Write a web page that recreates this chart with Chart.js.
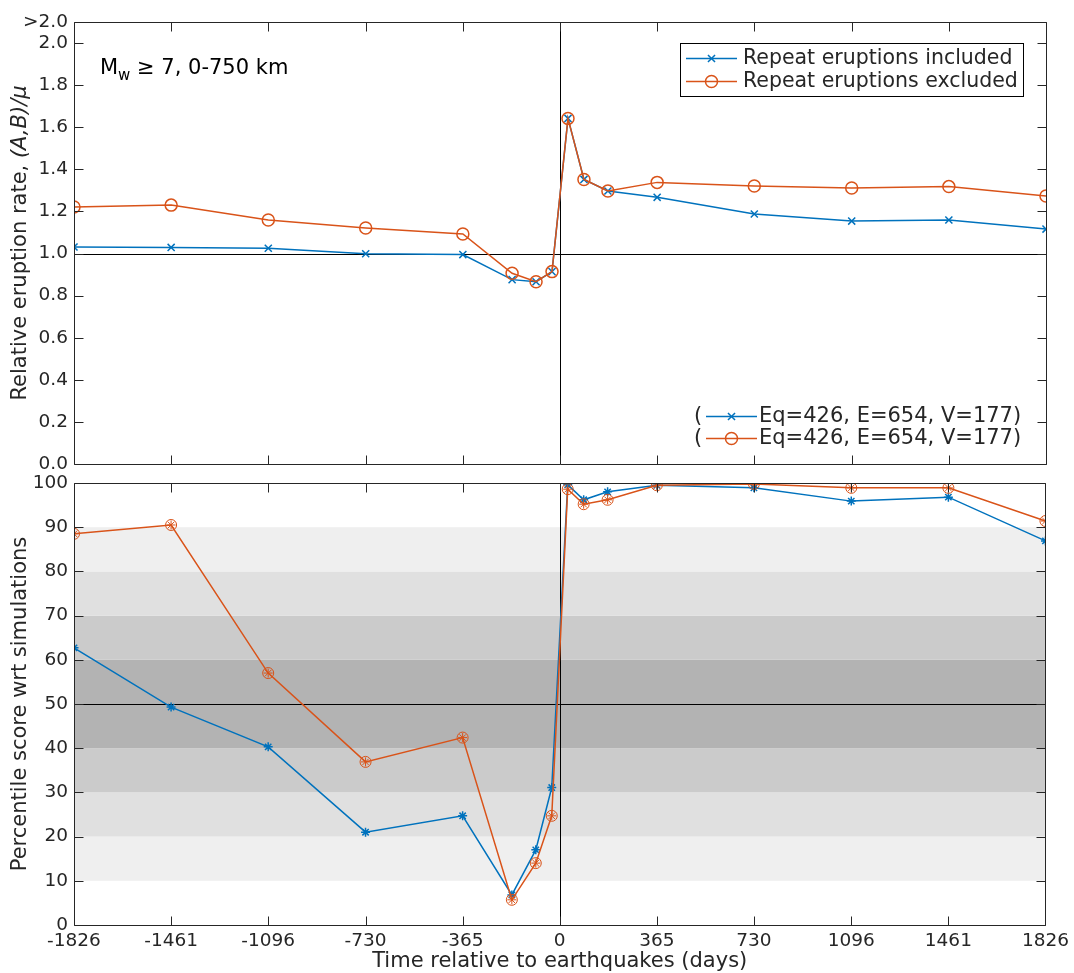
<!DOCTYPE html>
<html>
<head>
<meta charset="utf-8">
<script src="https://cdn.jsdelivr.net/npm/chart.js@4.4.1/dist/chart.umd.min.js"></script>
<style>
  body { margin: 0; background: #fff; }
  #wrap { position: relative; width: 1074px; height: 973px; }
  canvas { position: absolute; left: 0; top: 0; }
</style>
</head>
<body>
<div id="wrap">
  <canvas id="rate" width="1074" height="973"></canvas>
  <canvas id="pct" width="1074" height="973"></canvas>
</div>
<script>
// data
const days = [-1826, -1461, -1096, -730, -365, -180, -90, -30, 30, 90, 180, 365, 730, 1096, 1461, 1826];
const rateIncl = [1.031, 1.029, 1.025, 0.999, 0.995, 0.876, 0.866, 0.914, 1.642, 1.352, 1.297, 1.267, 1.188, 1.154, 1.159, 1.116];
const rateExcl = [1.221, 1.230, 1.159, 1.121, 1.093, 0.906, 0.866, 0.914, 1.642, 1.352, 1.297, 1.338, 1.321, 1.311, 1.318, 1.273];
const pctIncl = [62.7, 49.3, 40.3, 21.0, 24.7, 6.8, 17.0, 31.1, 99.6, 96.2, 98.0, 99.5, 98.9, 95.9, 96.8, 86.9];
const pctExcl = [88.5, 90.5, 57.0, 36.9, 42.4, 5.7, 14.0, 24.7, 98.6, 95.2, 96.2, 99.5, 99.8, 98.9, 98.9, 91.4];

const xTicks = [-1826, -1461, -1096, -730, -365, 0, 365, 730, 1096, 1461, 1826];
const rateTicks = [0, 0.2, 0.4, 0.6, 0.8, 1.0, 1.2, 1.4, 1.6, 1.8, 2.0, 2.1];
const pctTicks = [0, 10, 20, 30, 40, 50, 60, 70, 80, 90, 100];
const bands = [[10, 20], [20, 30], [30, 40], [40, 60], [60, 70], [70, 80], [80, 90]];
const bandShades = ['#efefef', '#e0e0e0', '#cbcbcb', '#b3b3b3', '#cbcbcb', '#e0e0e0', '#efefef'];

const legendNames = ['Repeat eruptions included', 'Repeat eruptions excluded'];
const countText = 'Eq=426, E=654, V=177)';

const BLUE = '#0072BD';
const ORANGE = '#D95319';
const AXIS = '#262626';
const FONT = '"DejaVu Sans", Verdana, sans-serif';

function pts(ys) {
  return days.map((d, i) => ({ x: d, y: ys[i] }));
}

// frame, inward ticks, reference lines, titles
const axesPlugin = {
  id: 'axesPlugin',
  beforeDatasetsDraw(chart, args, opts) {
    const ctx = chart.ctx;
    const a = chart.chartArea;
    const xs = chart.scales.x, ys = chart.scales.y;
    ctx.save();
    if (opts.bands) {
      opts.bands.forEach((b, i) => {
        const y1 = ys.getPixelForValue(b[1]);
        const y0 = ys.getPixelForValue(b[0]);
        ctx.fillStyle = bandShades[i];
        ctx.fillRect(a.left, y1, a.right - a.left, y0 - y1);
      });
    }
    ctx.strokeStyle = '#000';
    ctx.lineWidth = 1;
    const ry = Math.round(ys.getPixelForValue(opts.refY)) + 0.5;
    ctx.beginPath();
    ctx.moveTo(a.left, ry);
    ctx.lineTo(a.right, ry);
    const rx = Math.round(xs.getPixelForValue(0)) + 0.5;
    ctx.moveTo(rx, a.top);
    ctx.lineTo(rx, a.bottom);
    ctx.stroke();
    ctx.restore();
  },
  afterDraw(chart, args, opts) {
    const ctx = chart.ctx;
    const a = chart.chartArea;
    const xs = chart.scales.x, ys = chart.scales.y;
    const L = Math.round(a.left) + 0.5, R = Math.round(a.right) + 0.5;
    const T = Math.round(a.top) + 0.5, B = Math.round(a.bottom) + 0.5;
    const tl = 9;
    ctx.save();
    ctx.strokeStyle = AXIS;
    ctx.lineWidth = 1;
    ctx.beginPath();
    ctx.rect(L, T, R - L, B - T);
    xTicks.forEach(v => {
      const px = Math.round(xs.getPixelForValue(v)) + 0.5;
      ctx.moveTo(px, B); ctx.lineTo(px, B - tl);
      ctx.moveTo(px, T); ctx.lineTo(px, T + tl);
    });
    opts.yTicks.forEach(v => {
      const py = Math.round(ys.getPixelForValue(v)) + 0.5;
      ctx.moveTo(L, py); ctx.lineTo(L + tl, py);
      ctx.moveTo(R, py); ctx.lineTo(R - tl, py);
    });
    ctx.stroke();

    // y title, possibly with an italic part
    ctx.fillStyle = AXIS;
    ctx.translate(21, (a.top + a.bottom) / 2);
    ctx.rotate(-Math.PI / 2);
    ctx.textBaseline = 'middle';
    let total = 0;
    opts.yTitle.forEach(p => {
      ctx.font = (p[1] ? 'italic ' : '') + '21px ' + FONT;
      total += ctx.measureText(p[0]).width;
    });
    let x = -total / 2;
    opts.yTitle.forEach(p => {
      ctx.font = (p[1] ? 'italic ' : '') + '21px ' + FONT;
      ctx.fillText(p[0], x, 0);
      x += ctx.measureText(p[0]).width;
    });
    ctx.restore();

    if (opts.extra) opts.extra(chart);
  }
};

function sample(ctx, x0, x1, y, color, styles, radius) {
  ctx.strokeStyle = color;
  ctx.fillStyle = 'rgba(0,0,0,0)';
  ctx.lineWidth = 1.5;
  ctx.beginPath();
  ctx.moveTo(x0, y);
  ctx.lineTo(x1, y);
  ctx.stroke();
  styles.forEach(s => {
    Chart.helpers.drawPoint(ctx, { pointStyle: s, radius: radius, rotation: 0, borderWidth: 1.5 }, (x0 + x1) / 2, y);
  });
}

function drawTopExtras(chart) {
  const ctx = chart.ctx;
  ctx.save();
  // annotation
  ctx.fillStyle = '#000';
  ctx.textBaseline = 'alphabetic';
  ctx.font = '21px ' + FONT;
  let x = 100;
  ctx.fillText('M', x, 74);
  x += ctx.measureText('M').width;
  ctx.font = '15px ' + FONT;
  ctx.fillText('w', x, 80);
  x += ctx.measureText('w').width;
  ctx.font = '21px ' + FONT;
  ctx.fillText(' \u2265 7, 0-750 km', x, 74);

  // boxed legend
  ctx.fillStyle = '#fff';
  ctx.fillRect(680.5, 43.5, 343, 53);
  ctx.strokeStyle = '#000';
  ctx.lineWidth = 1;
  ctx.strokeRect(680.5, 43.5, 343, 53);
  sample(ctx, 686, 737, 58.5, BLUE, ['crossRot'], 5);
  sample(ctx, 686, 737, 81.5, ORANGE, ['circle'], 6);
  ctx.fillStyle = AXIS;
  ctx.font = '20.5px ' + FONT;
  ctx.textBaseline = 'middle';
  ctx.fillText(legendNames[0], 743, 59);
  ctx.fillText(legendNames[1], 743, 82);

  // counts legend
  ctx.font = '21px ' + FONT;
  ctx.fillText('(', 694, 417);
  ctx.fillText('(', 694, 439);
  sample(ctx, 706, 757, 416.5, BLUE, ['crossRot'], 5);
  sample(ctx, 706, 757, 438.5, ORANGE, ['circle'], 6);
  ctx.fillStyle = AXIS;
  ctx.fillText(countText, 759, 417);
  ctx.fillText(countText, 759, 439);
  ctx.restore();
}

function drawBottomExtras(chart) {
  const ctx = chart.ctx;
  const a = chart.chartArea;
  ctx.save();
  ctx.fillStyle = AXIS;
  ctx.font = '21px ' + FONT;
  ctx.textAlign = 'center';
  ctx.textBaseline = 'middle';
  ctx.fillText('Time relative to earthquakes (days)', (a.left + a.right) / 2, 962);
  ctx.restore();
}

const tickFont = { family: FONT, size: 18.5 };

new Chart(document.getElementById('rate'), {
  type: 'line',
  data: {
    datasets: [
      {
        data: pts(rateExcl), borderColor: ORANGE, backgroundColor: 'transparent',
        borderWidth: 1.5, pointStyle: 'circle', pointRadius: 6, pointBorderWidth: 1.5,
        tension: 0, order: 0
      },
      {
        data: pts(rateIncl), borderColor: BLUE, backgroundColor: 'transparent',
        borderWidth: 1.5, pointStyle: 'crossRot', pointRadius: 5, pointBorderWidth: 1.5,
        tension: 0, order: 1
      }
    ]
  },
  options: {
    responsive: false,
    animation: false,
    events: [],
    layout: { padding: { left: 0, top: 22, right: 28, bottom: 973 - 464 } },
    scales: {
      x: { type: 'linear', min: -1826, max: 1826, display: false },
      y: {
        type: 'linear', min: 0, max: 2.1,
        afterBuildTicks: s => { s.ticks = rateTicks.map(v => ({ value: v })); },
        afterFit: s => { s.width = 74; },
        grid: { display: false, drawTicks: false },
        border: { display: false },
        ticks: {
          font: tickFont, color: AXIS, padding: 6, autoSkip: false,
          callback: v => (v > 2.05 ? '>2.0' : v.toFixed(1))
        }
      }
    },
    plugins: {
      legend: { display: false },
      tooltip: { enabled: false },
      axesPlugin: {
        refY: 1.0,
        yTicks: rateTicks,
        yTitle: [['Relative eruption rate, ', false], ['(A,B)/\u03BC', true]],
        extra: drawTopExtras
      }
    }
  },
  plugins: [axesPlugin]
});

new Chart(document.getElementById('pct'), {
  type: 'line',
  data: {
    datasets: [
      {
        data: pts(pctExcl), borderColor: ORANGE, backgroundColor: 'transparent',
        borderWidth: 1.5, pointStyle: 'circle', pointRadius: 5.5, pointBorderWidth: 1,
        tension: 0, order: 0
      },
      {
        data: pts(pctExcl), borderColor: ORANGE, backgroundColor: 'transparent',
        showLine: false, pointStyle: 'star', pointRadius: 4.5, pointBorderWidth: 1,
        order: 0
      },
      {
        data: pts(pctIncl), borderColor: BLUE, backgroundColor: 'transparent',
        borderWidth: 1.5, pointStyle: 'star', pointRadius: 4.5, pointBorderWidth: 1.5,
        tension: 0, order: 1
      }
    ]
  },
  options: {
    responsive: false,
    animation: false,
    events: [],
    layout: { padding: { left: 0, top: 483, right: 28, bottom: 0 } },
    scales: {
      x: {
        type: 'linear', min: -1826, max: 1826,
        afterBuildTicks: s => { s.ticks = xTicks.map(v => ({ value: v })); },
        afterFit: s => { s.height = 48; },
        grid: { display: false, drawTicks: false },
        border: { display: false },
        ticks: {
          font: tickFont, color: AXIS, padding: 5, autoSkip: false, maxRotation: 0,
          callback: v => String(v)
        }
      },
      y: {
        type: 'linear', min: 0, max: 100,
        afterBuildTicks: s => { s.ticks = pctTicks.map(v => ({ value: v })); },
        afterFit: s => { s.width = 74; },
        grid: { display: false, drawTicks: false },
        border: { display: false },
        ticks: { font: tickFont, color: AXIS, padding: 6, autoSkip: false }
      }
    },
    plugins: {
      legend: { display: false },
      tooltip: { enabled: false },
      axesPlugin: {
        refY: 50,
        bands: bands,
        yTicks: pctTicks,
        yTitle: [['Percentile score wrt simulations', false]],
        extra: drawBottomExtras
      }
    }
  },
  plugins: [axesPlugin]
});
</script>
</body>
</html>
